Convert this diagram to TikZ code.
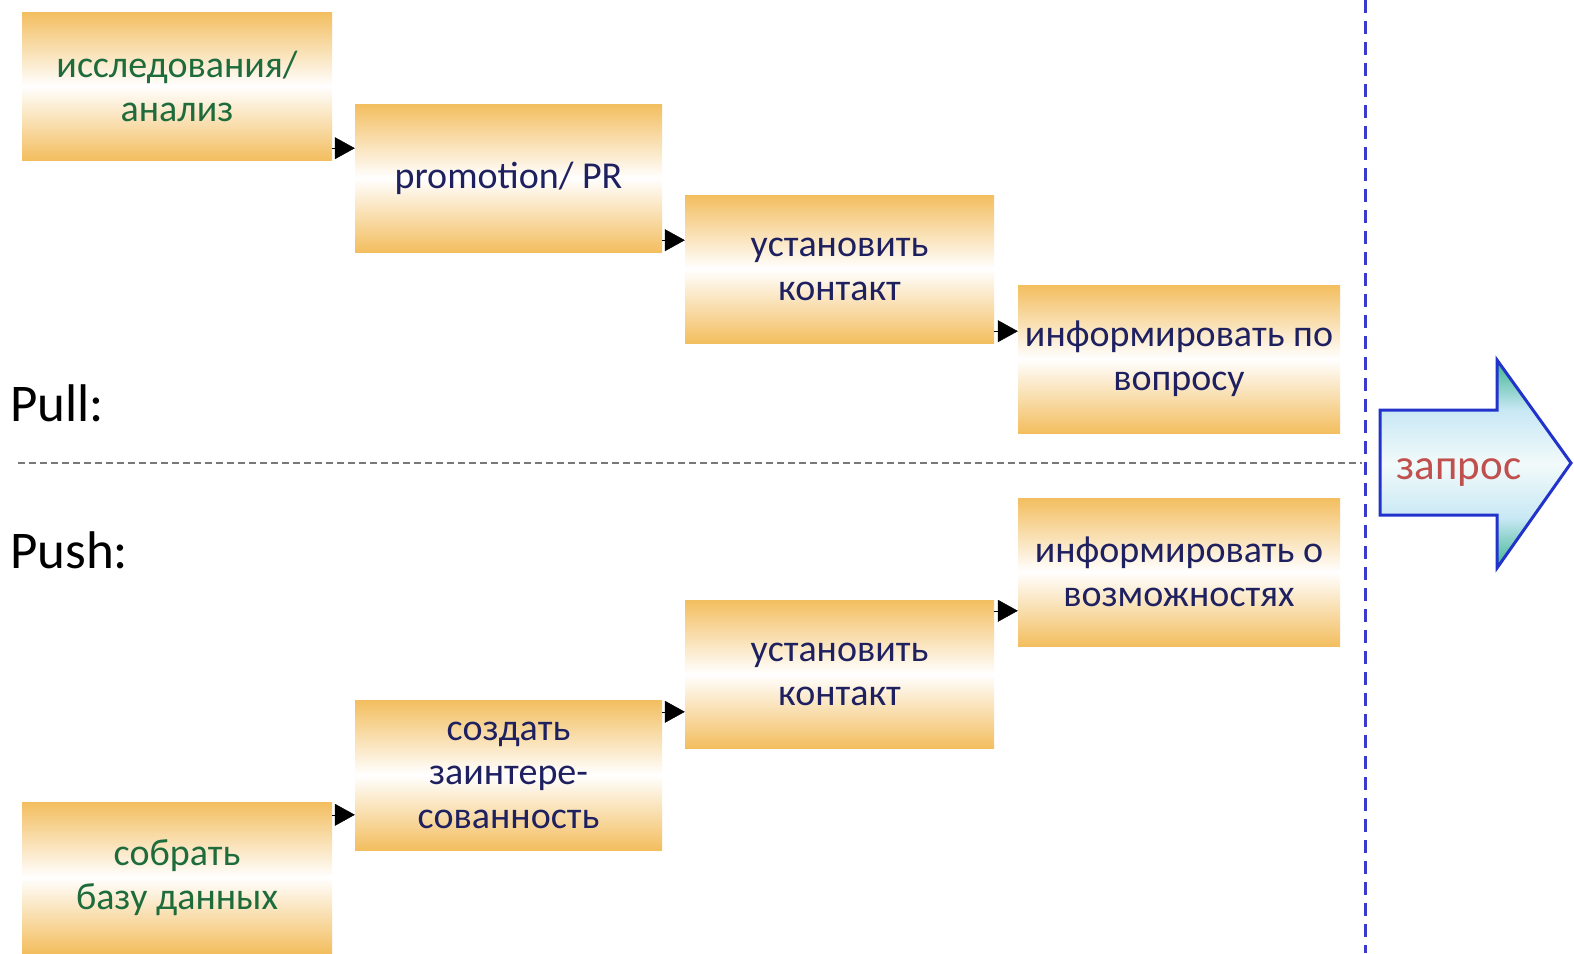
\documentclass[tikz,border=0pt]{standalone}
\usepackage{fontspec}
\setmainfont{Carlito}
\usetikzlibrary{arrows.meta,calc}
\definecolor{boxor}{RGB}{243,190,95}
\definecolor{navy}{RGB}{30,32,96}
\definecolor{dgreen}{RGB}{30,107,60}
\definecolor{zred}{RGB}{192,80,77}
\definecolor{sepgray}{RGB}{120,120,120}
\definecolor{vblue}{RGB}{58,58,204}
\definecolor{arrblue}{RGB}{34,51,204}
\definecolor{agreen}{RGB}{60,180,140}
\definecolor{alblue}{RGB}{200,232,245}
\definecolor{awhite}{RGB}{242,250,250}
\pgfdeclareverticalshading{arrowsh}{100bp}{color(0bp)=(agreen); color(25bp)=(agreen); color(37bp)=(alblue); color(50bp)=(awhite); color(63bp)=(alblue); color(75bp)=(agreen); color(100bp)=(agreen)}
\tikzset{
  box/.style={inner sep=0pt, align=center, top color=boxor, bottom color=boxor, middle color=white,
    font=\fontsize{38}{44}\selectfont},
  navytext/.style={text=navy},
  greentext/.style={text=dgreen},
  tri/.style={-{Triangle[length=20pt,width=22pt]}, line width=0.4pt, black},
  lbl/.style={anchor=west, inner sep=0pt, font=\fontsize{53}{60}\selectfont},
}
\begin{document}
\begin{tikzpicture}[x=1pt,y=-1pt]
\useasboundingbox (0,0) rectangle (1574,953);
% separators
\draw[sepgray, line width=1.3pt, dash pattern=on 7pt off 4pt] (18,463) -- (1362,463);
\draw[vblue, line width=3pt, dash pattern=on 13pt off 8pt] (1365,0) -- (1365,953);
% pull boxes
\node[box, greentext, minimum width=310pt, minimum height=148pt] (b1) at (177,86) {исследования/\\анализ};
\node[box, navytext, minimum width=307pt, minimum height=148pt] (b2) at (508.5,178) {promotion/ PR};
\node[box, navytext, minimum width=309pt, minimum height=148pt] (b3) at (839.5,269) {установить\\контакт};
\node[box, navytext, minimum width=322pt, minimum height=148pt] (b4) at (1179,359) {информировать по\\вопросу};
% push boxes
\node[box, greentext, minimum width=310pt, minimum height=151pt] (b5) at (177,877.5) {собрать\\базу данных};
\node[box, navytext, minimum width=307pt, minimum height=150pt] (b6) at (508.5,775) {создать\\заинтере-\\сованность};
\node[box, navytext, minimum width=309pt, minimum height=148pt] (b7) at (839.5,674) {установить\\контакт};
\node[box, navytext, minimum width=322pt, minimum height=148pt] (b8) at (1179,572) {информировать о\\возможностях};
% arrows
\coordinate (p1) at ($(b1.south east)+(0,-12)$);
\coordinate (p2) at ($(b2.south east)+(0,-12)$);
\coordinate (p3) at ($(b3.south east)+(0,-12)$);
\coordinate (q5) at ($(b5.north east)+(0,13)$);
\coordinate (q6) at ($(b6.north east)+(0,12)$);
\coordinate (q7) at ($(b7.north east)+(0,11)$);
\draw[tri] (p1) -- (p1 -| b2.west);
\draw[tri] (p2) -- (p2 -| b3.west);
\draw[tri] (p3) -- (p3 -| b4.west);
\draw[tri] (q5) -- (q5 -| b6.west);
\draw[tri] (q6) -- (q6 -| b7.west);
\draw[tri] (q7) -- (q7 -| b8.west);
% labels
\node[lbl] (pull) at (10,403) {Pull:};
\node[lbl] (push) at (10,550) {Push:};
% big arrow
\draw[arrblue, line width=3pt, line join=miter, shading=arrowsh]
  (1380,410) -- (1497,410) -- (1497,360) -- (1571,463) -- (1497,568) -- (1497,515) -- (1380,515) -- cycle;
\node[text=zred, font=\fontsize{43}{50}\selectfont, inner sep=0pt] (zapros) at (1459,473) {запрос};
\end{tikzpicture}
\end{document}
